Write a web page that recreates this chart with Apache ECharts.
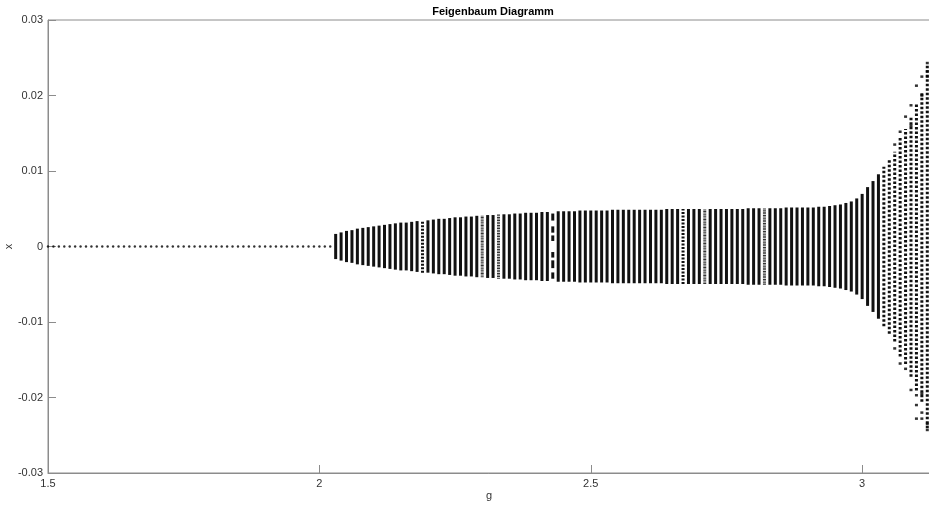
<!DOCTYPE html>
<html><head><meta charset="utf-8">
<script src="https://cdn.jsdelivr.net/npm/echarts@6/dist/echarts.min.js"></script>
<style>html,body{margin:0;padding:0;background:#fff}#c{width:929px;height:506px}</style>
</head><body><div id="c"></div>
<script>
// Fixed-point region (x = 0)
const gFixed = [1.50,1.51,1.52,1.53,1.54,1.55,1.56,1.57,1.58,1.59,1.60,1.61,1.62,1.63,1.64,1.65,1.66,1.67,1.68,1.69,
1.70,1.71,1.72,1.73,1.74,1.75,1.76,1.77,1.78,1.79,1.80,1.81,1.82,1.83,1.84,1.85,1.86,1.87,1.88,1.89,
1.90,1.91,1.92,1.93,1.94,1.95,1.96,1.97,1.98,1.99,2.00,2.01,2.02];
const xFixed = [0,0,0,0,0,0,0,0,0,0,0,0,0,0,0,0,0,0,0,0,0,0,0,0,0,0,0,0,0,0,0,0,0,0,0,0,0,0,0,0,0,0,0,0,0,0,0,0,0,0,0,0,0];

// Oscillating region: g values and half-amplitude of each column
const gCols = [2.03,2.04,2.05,2.06,2.07,2.08,2.09,2.10,2.11,2.12,2.13,2.14,2.15,2.16,2.17,2.18,2.19,2.20,2.21,2.22,
2.23,2.24,2.25,2.26,2.27,2.28,2.29,2.30,2.31,2.32,2.33,2.34,2.35,2.36,2.37,2.38,2.39,2.40,2.41,2.42,
2.43,2.44,2.45,2.46,2.47,2.48,2.49,2.50,2.51,2.52,2.53,2.54,2.55,2.56,2.57,2.58,2.59,2.60,2.61,2.62,
2.63,2.64,2.65,2.66,2.67,2.68,2.69,2.70,2.71,2.72,2.73,2.74,2.75,2.76,2.77,2.78,2.79,2.80,2.81,2.82,
2.83,2.84,2.85,2.86,2.87,2.88,2.89,2.90,2.91,2.92,2.93,2.94,2.95,2.96,2.97,2.98,2.99,3.00,3.01,3.02,
3.03,3.04,3.05,3.06,3.07,3.08,3.09,3.10,3.11,3.12];
const colAmp = [0.0016,0.0018,0.0020,0.0021,0.0023,0.0024,0.0025,0.0026,0.0027,0.0028,0.0029,0.0030,0.0031,0.0031,0.0032,0.0033,0.0034,0.0034,0.0035,0.0036,
0.0036,0.0037,0.0038,0.0038,0.0039,0.0039,0.0040,0.0040,0.0041,0.0041,0.0042,0.0042,0.0042,0.0043,0.0043,0.0044,0.0044,0.0044,0.0045,0.0045,
0.0045,0.0046,0.0046,0.0046,0.0046,0.0047,0.0047,0.0047,0.0047,0.0047,0.0047,0.0048,0.0048,0.0048,0.0048,0.0048,0.0048,0.0048,0.0048,0.0048,
0.0048,0.0049,0.0049,0.0049,0.0049,0.0049,0.0049,0.0049,0.0049,0.0049,0.0049,0.0049,0.0049,0.0049,0.0049,0.0049,0.0050,0.0050,0.0050,0.0050,
0.0050,0.0050,0.0050,0.0051,0.0051,0.0051,0.0051,0.0051,0.0051,0.0052,0.0052,0.0053,0.0054,0.0055,0.0057,0.0059,0.0063,0.0069,0.0078,0.0086,
0.0095,0.0105,0.0115,0.0125,0.0145,0.0155,0.0172,0.0190,0.0205,0.0240];
// column style: 0 solid, 1 dashed, 2 dotted (light), 3 broken chaotic, 4 drawn from segments
const colStyle = [0,0,0,0,0,0,0,0,0,0,0,0,0,0,0,0,1,0,0,0,
0,0,0,0,0,0,0,2,0,0,2,0,0,0,0,0,0,0,0,0,
4,0,0,0,0,0,0,0,0,0,0,0,0,0,0,0,0,0,0,0,
0,0,0,0,1,0,0,0,2,0,0,0,0,0,0,0,0,0,0,2,
0,0,0,0,0,0,0,0,0,0,0,0,0,0,0,0,0,0,0,0,
0,3,3,3,3,3,3,3,3,3];

// Column at g = 2.43 consists of separate short pieces
const segG = [2.43,2.43,2.43,2.43,2.43,2.43];
const segLo = [0.0035,0.0019,0.0008,-0.0014,-0.0028,-0.0042];
const segHi = [0.0043,0.0026,0.0014,-0.0008,-0.0019,-0.0035];

// Scattered points in the chaotic region
const chaosG = [3.07,3.08,3.09,3.09,3.10,3.10,3.11,3.11,3.11,3.12,3.12,3.12,3.07,3.08,3.09,3.10,3.10,3.11,3.11,3.12,3.12,3.06,3.06];
const chaosX = [0.0152,0.0172,0.0187,-0.0190,0.0213,-0.0210,0.0225,-0.0220,-0.0228,0.0243,0.0232,-0.0243,-0.0155,-0.0162,0.0160,-0.0228,-0.0197,0.0200,-0.0195,-0.0235,0.0225,0.0135,-0.0135];

const yTicks = [-0.03,-0.02,-0.01,0,0.01,0.02,0.03];
const xTicks = [1.5,2,2.5,3];

const colData = gCols.map((g,i)=>[g,-colAmp[i],colAmp[i],colStyle[i]]).filter(d=>d[3]!==4);
const segData = segG.map((g,i)=>[g,segLo[i],segHi[i],0]);

const chart = echarts.init(document.getElementById('c'));
function renderCol(params, api){
  const g=api.value(0), lo=api.value(1), hi=api.value(2), st=api.value(3);
  const p1=api.coord([g,lo]), p2=api.coord([g,hi]);
  let dash=null, stroke='#111';
  if(st===1) dash=[2,1.5];
  if(st===2){dash=[1,0.6]; stroke='#333';}
  if(st===3) dash=[2.5,2];
  return {type:'line', shape:{x1:p1[0],y1:p1[1]+0.5,x2:p2[0],y2:p2[1]-0.5},
    style:{stroke:stroke,lineWidth:3,lineDash:dash,lineCap:'butt'}};
}
const fontFam = 'Helvetica, Arial, "Liberation Sans", sans-serif';
chart.setOption({
  animation:false,
  backgroundColor:'#fff',
  title:{text:'Feigenbaum Diagramm', left:488, textAlign:'center', top:1,
    textStyle:{fontSize:11,fontWeight:'bold',color:'#000',fontFamily:fontFam}},
  grid:{left:48,right:-1,top:20,bottom:33,show:true,borderColor:'#8c8c8c',borderWidth:1,
    containLabel:false,outerBoundsMode:'none'},
  xAxis:{type:'value',min:1.5,max:3.125,interval:0.5,
    name:'g',nameLocation:'middle',nameGap:17,nameMoveOverlap:false,
    nameTextStyle:{fontSize:11,color:'#333',fontFamily:fontFam},
    axisLine:{onZero:false,lineStyle:{color:'#8c8c8c'}},
    axisTick:{inside:true,length:8,lineStyle:{color:'#8c8c8c'}},
    axisLabel:{showMaxLabel:false,fontSize:11,color:'#333',margin:5,fontFamily:fontFam,
      formatter:v=>String(+v.toFixed(2))},
    splitLine:{show:false}},
  yAxis:{type:'value',min:-0.03,max:0.03,interval:0.01,
    name:'x',nameLocation:'middle',nameGap:34,nameMoveOverlap:false,
    nameTextStyle:{fontSize:11,color:'#333',fontFamily:fontFam},
    axisLine:{onZero:false,lineStyle:{color:'#8c8c8c'}},
    axisTick:{inside:true,length:8,lineStyle:{color:'#8c8c8c'}},
    axisLabel:{fontSize:11,color:'#333',margin:5,fontFamily:fontFam,
      formatter:v=>String(+v.toFixed(2))},
    splitLine:{show:false}},
  series:[
    {type:'scatter',data:gFixed.map((g,i)=>[g,xFixed[i]]),symbolSize:2.4,
      itemStyle:{color:'#000'},silent:true},
    {type:'custom',data:colData,renderItem:renderCol,encode:{x:0,y:[1,2]},silent:true},
    {type:'custom',data:segData,renderItem:renderCol,encode:{x:0,y:[1,2]},silent:true},
    {type:'scatter',data:chaosG.map((g,i)=>[g,chaosX[i]]),symbol:'rect',symbolSize:[3,2.5],
      itemStyle:{color:'#000'},silent:true}
  ]
});
</script></body></html>
